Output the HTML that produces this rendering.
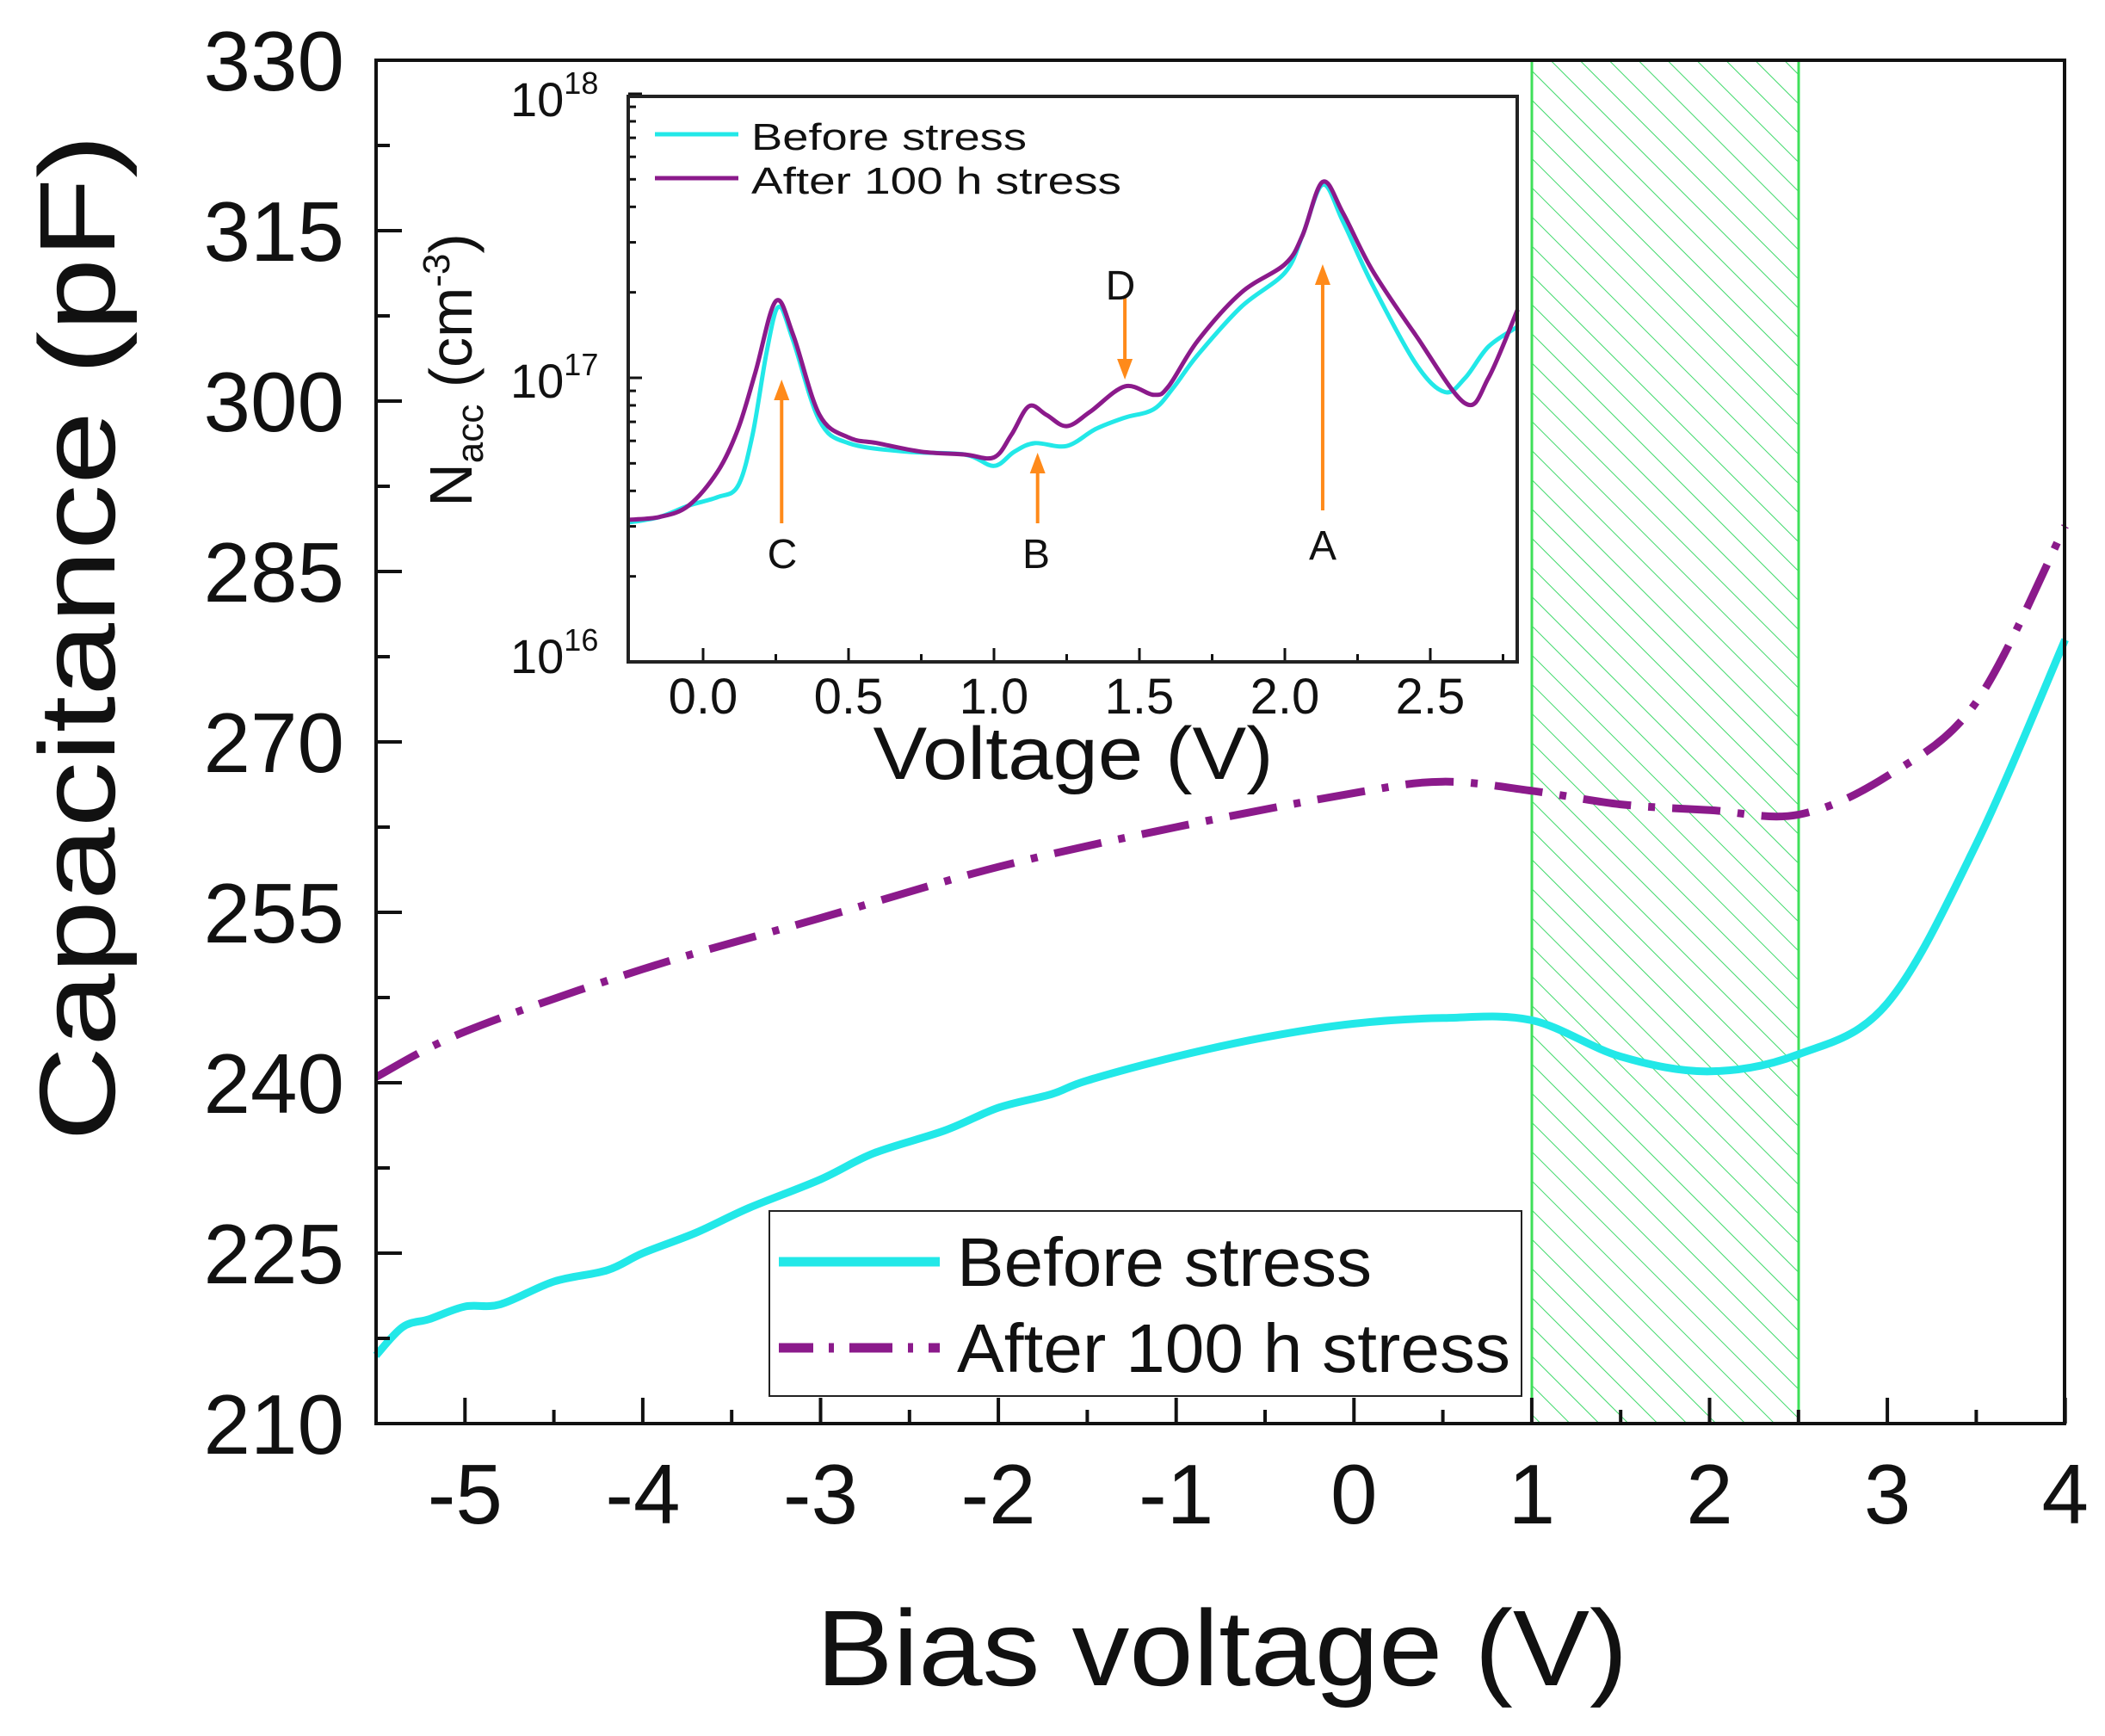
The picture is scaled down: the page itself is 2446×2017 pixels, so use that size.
<!DOCTYPE html>
<html><head><meta charset="utf-8"><style>
html,body{margin:0;padding:0;background:#fff}
svg{display:block;font-family:"Liberation Sans",Arial,sans-serif}
</style></head><body>
<svg id="s" width="2446" height="2017" viewBox="0 0 2446 2017" xmlns="http://www.w3.org/2000/svg">
<defs>
<pattern id="hatch" patternUnits="userSpaceOnUse" width="24" height="24" patternTransform="rotate(-45)">
<line x1="0" y1="0" x2="0" y2="24" stroke="#3fd96a" stroke-width="2"/>
</pattern>
</defs>
<rect x="1780" y="70" width="310" height="1584" fill="url(#hatch)"/>
<line x1="1780" y1="70" x2="1780" y2="1654" stroke="#3fe05a" stroke-width="3"/>
<line x1="2090" y1="70" x2="2090" y2="1654" stroke="#3fe05a" stroke-width="3"/>
<g id="main"></g>
<rect x="437" y="70" width="1962" height="1584" fill="none" stroke="#111" stroke-width="4"/>
<g font-size="98" fill="#111" text-anchor="end" id="ylab"></g>
<g font-size="98" fill="#111" text-anchor="middle" id="xlab"></g>
<text x="1420" y="1958" font-size="125" text-anchor="middle" textLength="943" lengthAdjust="spacingAndGlyphs" fill="#111">Bias voltage (V)</text>
<text transform="translate(133,741) rotate(-90)" font-size="125" text-anchor="middle" textLength="1170" lengthAdjust="spacingAndGlyphs" fill="#111">Capacitance (pF)</text>
<rect x="894" y="1407" width="874" height="215" fill="#fff" stroke="#222" stroke-width="2"/>
<line x1="905" y1="1466" x2="1092" y2="1466" stroke="#22e8e8" stroke-width="11"/>
<path d="M905 1566 H945 M963 1566 H969 M987 1566 H1037 M1055 1566 H1061 M1079 1566 H1092" stroke="#8b1a8b" stroke-width="11"/>
<text x="1112" y="1494" font-size="80" fill="#111" textLength="482" lengthAdjust="spacingAndGlyphs">Before stress</text>
<text x="1112" y="1594" font-size="80" fill="#111" textLength="643" lengthAdjust="spacingAndGlyphs">After 100 h stress</text>
<rect x="730" y="112" width="1033" height="657" fill="#fff"/>
<g id="inset"></g>
<rect x="730" y="112" width="1033" height="657" fill="none" stroke="#222" stroke-width="4"/>
<line x1="761" y1="156" x2="858" y2="156" stroke="#22e8e8" stroke-width="5"/>
<line x1="761" y1="207" x2="858" y2="207" stroke="#8b1a8b" stroke-width="5"/>
<text x="873" y="174" font-size="44" fill="#111" textLength="320" lengthAdjust="spacingAndGlyphs">Before stress</text>
<text x="873" y="225" font-size="44" fill="#111" textLength="430" lengthAdjust="spacingAndGlyphs">After 100 h stress</text>
<g font-size="58" fill="#111" text-anchor="middle" id="ixlab"></g>
<text x="1247" y="905" font-size="86" text-anchor="middle" fill="#111" textLength="465" lengthAdjust="spacingAndGlyphs">Voltage (V)</text>
<g font-size="56" fill="#111">
<text x="593" y="135">10<tspan font-size="36" dy="-26">18</tspan></text>
<text x="593" y="462">10<tspan font-size="36" dy="-26">17</tspan></text>
<text x="593" y="782">10<tspan font-size="36" dy="-26">16</tspan></text>
</g>
<text transform="translate(548,430) rotate(-90)" font-size="70" text-anchor="middle" fill="#111">N<tspan font-size="44" dy="13">acc</tspan><tspan dy="-13"> (cm</tspan><tspan font-size="44" dy="-26">-3</tspan><tspan dy="26">)</tspan></text>
<g font-size="48" fill="#111" text-anchor="middle">
<text x="909" y="660">C</text><text x="1204" y="660">B</text><text x="1537" y="650">A</text><text x="1302" y="348">D</text>
</g>
</svg>
<script>
const NS="http://www.w3.org/2000/svg";
function el(p,t,a){const e=document.createElementNS(NS,t);for(const k in a)e.setAttribute(k,a[k]);document.getElementById(p).appendChild(e);return e;}
function cr(pts){let d="M"+pts[0][0].toFixed(1)+" "+pts[0][1].toFixed(1);
for(let i=0;i<pts.length-1;i++){const p0=pts[Math.max(0,i-1)],p1=pts[i],p2=pts[i+1],p3=pts[Math.min(pts.length-1,i+2)];
d+=" C"+(p1[0]+(p2[0]-p0[0])/6).toFixed(1)+" "+(p1[1]+(p2[1]-p0[1])/6).toFixed(1)+" "+(p2[0]-(p3[0]-p1[0])/6).toFixed(1)+" "+(p2[1]-(p3[1]-p1[1])/6).toFixed(1)+" "+p2[0].toFixed(1)+" "+p2[1].toFixed(1);}return d;}
const X=v=>437+(v+5.5)*206.6, Y=c=>1654-(c-210)*13.2;
const cy=[[-5.5,216],[-5.35,218.5],[-5.2,219.2],[-5.0,220.3],[-4.8,220.5],[-4.5,222.5],[-4.2,223.5],[-4,225],[-3.7,226.8],[-3.4,229],[-3,231.5],[-2.7,233.8],[-2.3,235.8],[-2,237.8],[-1.7,239],[-1.5,240.2],[-1,242.3],[-0.5,244],[0,245.2],[0.5,245.7],[1,245.5],[1.5,242.3],[2,241],[2.5,242.5],[3,247],[3.5,261],[4,279]];
const pu=[[-5.5,240.5],[-5,244.5],[-4,250],[-3,254.5],[-2,259],[-1,262.5],[0,265.5],[0.5,266.5],[1,265.7],[1.5,264.5],[2,264],[2.5,263.6],[3,267],[3.5,273.5],[4,289]];
el("main","path",{d:cr(cy.map(p=>[X(p[0]),Y(p[1])])),fill:"none",stroke:"#22e8e8","stroke-width":9});
el("main","path",{d:cr(pu.map(p=>[X(p[0]),Y(p[1])])),fill:"none",stroke:"#8b1a8b","stroke-width":9,"stroke-dasharray":"56 20 8 20"});
for(let c=210;c<=330;c+=7.5){const y=Y(c),maj=(c%15==0);el("main","line",{x1:437,x2:437+(maj?30:16),y1:y,y2:y,stroke:"#111","stroke-width":4});
if(maj){const t=el("ylab","text",{x:400,y:y+35});t.textContent=c;}}
for(let v=-5.5;v<=4;v+=0.5){const x=X(v),maj=Number.isInteger(v);el("main","line",{x1:x,x2:x,y1:1654,y2:1654-(maj?30:16),stroke:"#111","stroke-width":4});
if(maj){const t=el("xlab","text",{x:x,y:1770});t.textContent=v;}}
const IX=v=>817+v*338, IY=l=>769-(l-16)*330;
const ip=[[-0.26,16.5],[-0.15,16.51],[-0.05,16.55],[0.05,16.67],[0.12,16.82],[0.18,17.02],[0.25,17.27],[0.31,17.15],[0.4,16.87],[0.5,16.79],[0.6,16.77],[0.75,16.74],[0.9,16.73],[1.0,16.72],[1.06,16.8],[1.12,16.9],[1.18,16.87],[1.25,16.83],[1.33,16.88],[1.45,16.97],[1.55,16.94],[1.6,16.97],[1.7,17.13],[1.85,17.3],[2.0,17.4],[2.06,17.5],[2.13,17.69],[2.2,17.58],[2.3,17.38],[2.45,17.15],[2.62,16.91],[2.7,17.0],[2.8,17.24]];
const ic=[[-0.26,16.49],[-0.15,16.51],[-0.05,16.55],[0.05,16.58],[0.12,16.62],[0.17,16.8],[0.22,17.1],[0.26,17.25],[0.31,17.13],[0.4,16.85],[0.5,16.77],[0.7,16.74],[0.9,16.73],[1.0,16.69],[1.07,16.74],[1.14,16.77],[1.25,16.76],[1.35,16.82],[1.45,16.86],[1.55,16.89],[1.62,16.97],[1.7,17.08],[1.85,17.25],[2.0,17.37],[2.06,17.5],[2.13,17.68],[2.2,17.55],[2.3,17.33],[2.45,17.05],[2.55,16.95],[2.62,17.0],[2.7,17.11],[2.8,17.18]];
el("inset","path",{d:cr(ic.map(p=>[IX(p[0]),IY(p[1])])),fill:"none",stroke:"#22e8e8","stroke-width":5});
el("inset","path",{d:cr(ip.map(p=>[IX(p[0]),IY(p[1])])),fill:"none",stroke:"#8b1a8b","stroke-width":5});
for(let v=0;v<=2.75;v+=0.25){const x=IX(v),maj=(Math.abs(v*2-Math.round(v*2))<1e-6);el("inset","line",{x1:x,x2:x,y1:769,y2:769-(maj?16:9),stroke:"#111","stroke-width":3});
if(maj){const t=el("ixlab","text",{x:x,y:829});t.textContent=v.toFixed(1);}}
for(let d=16;d<18;d++)for(let m=1;m<=10;m++){const y=IY(d+Math.log10(m));el("inset","line",{x1:730,x2:730+(m==1||m==10?16:9),y1:y,y2:y,stroke:"#111","stroke-width":3});}
function arrow(x,y1,y2){const up=y2<y1;el("inset","line",{x1:x,x2:x,y1:y1,y2:y2+(up?18:-18),stroke:"#ff8a1a","stroke-width":4});
el("inset","path",{d:`M${x} ${y2} L${x-9} ${y2+(up?24:-24)} L${x+9} ${y2+(up?24:-24)}Z`,fill:"#ff8a1a"});}
arrow(IX(0.27),608,441);arrow(IX(1.15),608,526);arrow(IX(2.13),593,307);arrow(IX(1.45),346,441);
</script>
</body></html>
